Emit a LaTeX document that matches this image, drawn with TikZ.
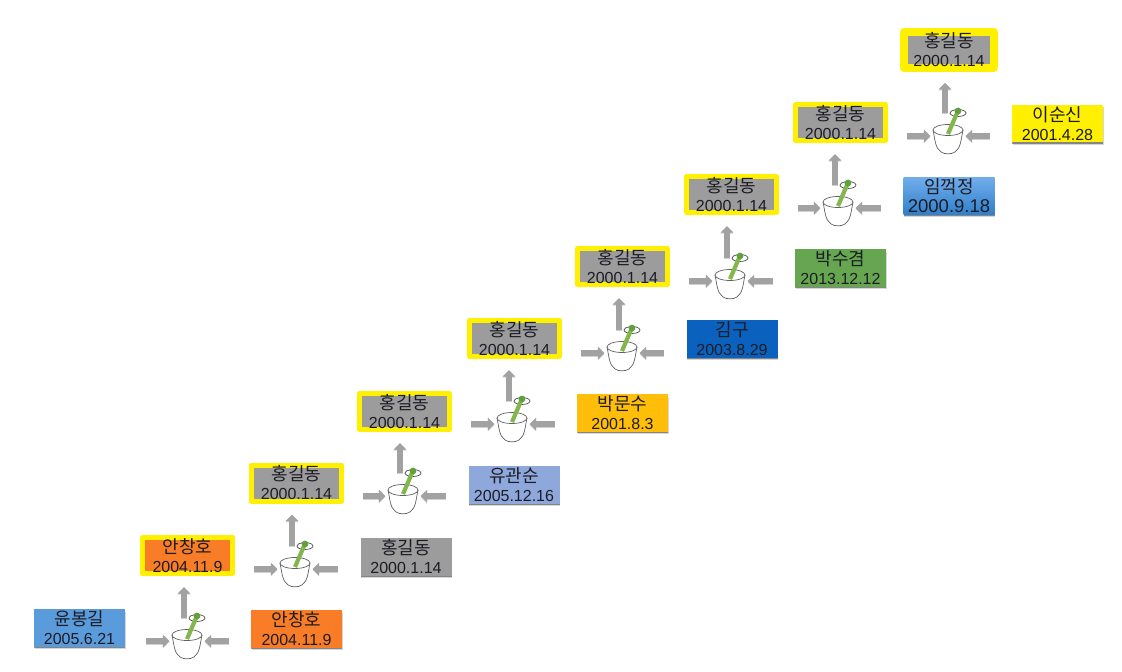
\documentclass[tikz,border=0pt]{standalone}
\usepackage{fontspec}
\setmainfont{Liberation Sans}
\newfontfamily\krfont{Noto Sans CJK KR}
\usetikzlibrary{arrows.meta,shadows}
\definecolor{cgray}{HTML}{9C9C9C}
\definecolor{corange}{HTML}{F97C26}
\definecolor{cblue}{HTML}{5A9BDC}
\definecolor{cyel}{HTML}{FFF000}
\definecolor{cperi}{HTML}{8FA8DC}
\definecolor{camber}{HTML}{FFBE0A}
\definecolor{croyal}{HTML}{0A62BE}
\definecolor{cgreen}{HTML}{66A650}
\definecolor{carrow}{HTML}{A2A2A2}
\definecolor{cstick}{HTML}{84B64E}
\definecolor{cball}{HTML}{62A03C}
\definecolor{ctext}{HTML}{1C1C24}
\definecolor{ctop}{HTML}{72ADEA}
\definecolor{cbot}{HTML}{2F7FCC}
\tikzset{
  x=1pt,y=-1pt,
  softshadow/.style={
    drop shadow={shadow xshift=0.6pt,shadow yshift=-2.6pt,fill=black,opacity=.16},
    drop shadow={shadow xshift=0.3pt,shadow yshift=-1.4pt,fill=black,opacity=.38}},
  card/.style={rectangle,inner sep=0pt,align=center,text=ctext,minimum width=91pt,minimum height=37.5pt,softshadow,
    font=\fontsize{16}{19}\selectfont},
  winner/.style={card,draw=cyel,line width=5pt,line join=round,fill=cgray,minimum width=90pt,minimum height=36pt},
  mortarbox/.style={rectangle,inner sep=0pt,minimum width=35pt,minimum height=46pt},
  blockarrow/.style={draw=carrow,line width=6.5pt,-{Triangle[width=12.5pt,length=6.5pt]},
    preaction={draw=black!60,opacity=.3,line width=6.5pt,transform canvas={yshift=-1pt}}},
}
\newcommand{\nm}[1]{{\krfont\fontsize{18}{19}\selectfont #1}}
\newcommand{\mortar}[3]{%
  \node[mortarbox] (#1) at (#2,#3+6) {};
  \begin{scope}[shift={(#2,#3)}]
    \draw[draw=black!62,line width=.7pt,fill=white] (-15,0) .. controls (-13,9) and (-13,18) .. (-7,22)
       .. controls (-3,24.5) and (3,24.5) .. (7,22) .. controls (13,18) and (13,9) .. (15,0);
    \draw[draw=black!62,line width=.7pt,fill=white] (0,0) ellipse (15 and 5.5);
    \draw[draw=black!70,line width=.7pt] (2,-17) arc (180:-100:8 and 3.5);
    \draw[cstick,line width=4.2pt] (0,4) -- (9,-17);
    \fill[cball] (10,-19) circle (3.4);
    \draw[draw=black!70,line width=.7pt] (2,-17) arc (180:250:8 and 3.5);
  \end{scope}}
\begin{document}
\begin{tikzpicture}
\useasboundingbox (0,0) rectangle (1122,672);
% input cards
\node[card,fill=cblue] (a0) at (79.5,628) {\nm{윤봉길}\\2005.6.21};
\node[card,fill=corange] (b1) at (296.5,629) {\nm{안창호}\\2004.11.9};
\node[card,fill=cgray] (b2) at (406,557) {\nm{홍길동}\\2000.1.14};
\node[card,fill=cperi] (b3) at (514,485) {\nm{유관순}\\2005.12.16};
\node[card,fill=camber] (b4) at (622.5,413) {\nm{박문수}\\2001.8.3};
\node[card,fill=croyal] (b5) at (732,339) {\nm{김구}\\2003.8.29};
\node[card,fill=cgreen] (b6) at (840.5,268) {\nm{박수겸}\\2013.12.12};
\node[card,top color=ctop,bottom color=cbot,font=\fontsize{18.5}{19}\selectfont] (b7) at (949,196) {\nm{임꺽정}\\2000.9.18};
\node[card,fill=cyel] (b8) at (1057.5,123.5) {\nm{이순신}\\2001.4.28};
% winners
\node[winner,fill=corange] (r1) at (187.5,555.5) {\nm{안창호}\\2004.11.9};
\node[winner] (r2) at (296.5,483) {\nm{홍길동}\\2000.1.14};
\node[winner] (r3) at (404.5,411.5) {\nm{홍길동}\\2000.1.14};
\node[winner] (r4) at (514.5,338.5) {\nm{홍길동}\\2000.1.14};
\node[winner] (r5) at (622.5,266.5) {\nm{홍길동}\\2000.1.14};
\node[winner] (r6) at (731.5,194.5) {\nm{홍길동}\\2000.1.14};
\node[winner] (r7) at (840.5,122.5) {\nm{홍길동}\\2000.1.14};
\node[winner,line width=7.5pt] (r8) at (949,50) {\nm{홍길동}\\2000.1.14};
% mortars
\mortar{m1}{187}{635}
\mortar{m2}{295}{563}
\mortar{m3}{403}{490}
\mortar{m4}{512}{418}
\mortar{m5}{622}{347}
\mortar{m6}{730}{275}
\mortar{m7}{838}{202}
\mortar{m8}{948}{130}
% connectors
\draw[blockarrow,shorten <=21pt] (a0.east |- m1.west) -- (m1.west);
\foreach \i/\p in {2/1,3/2,4/3,5/4,6/5,7/6,8/7}
  \draw[blockarrow,shorten <=19pt] (r\p.east |- m\i.west) -- (m\i.west);
\foreach \i in {1,...,8}{
  \draw[blockarrow,shorten <=22pt] (b\i.west |- m\i.east) -- (m\i.east);
  \draw[blockarrow,shorten >=11pt] ([xshift=-3pt]m\i.north) -- ([xshift=-3pt]m\i.north |- r\i.south);
}
\end{tikzpicture}
\end{document}
